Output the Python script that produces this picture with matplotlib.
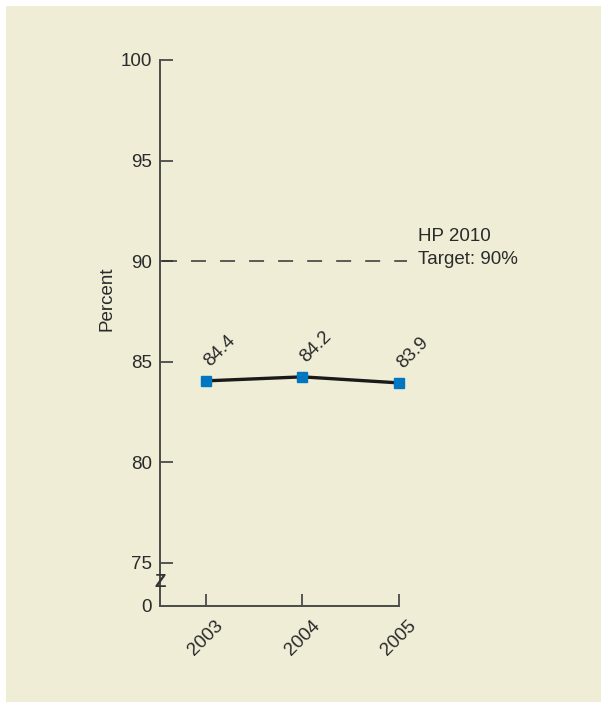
import matplotlib
matplotlib.use("Agg")
import matplotlib.pyplot as plt
from matplotlib.patches import Rectangle

plt.rcParams['font.family'] = ['Liberation Sans', 'DejaVu Sans']

years = [2003, 2004, 2005]
percent_plotted = [84.05, 84.25, 83.95]
percent_labels = ["84.4", "84.2", "83.9"]
target_value = 90
target_label = "HP 2010\nTarget: 90%"
ytick_values = [75, 80, 85, 90, 95, 100]
axis_floor = 72.86  # position of the "0" on the broken axis

W, H = 601, 702
FS = 13.5
fig = plt.figure(figsize=(W / 100, H / 100), dpi=100)
fig.patch.set_facecolor('white')
bg = '#efedd6'
fig.patches.append(Rectangle((6 / W, 0), 1 - 6 / W, 1 - 6 / H, transform=fig.transFigure,
                             facecolor=bg, edgecolor='none', zorder=-10))

left, right = 160 / W, 399 / W
bottom, top = 1 - 606 / H, 1 - 60 / H
ax = fig.add_axes([left, bottom, right - left, top - bottom])
ax.set_facecolor('none')

text_color = '#2a2a2a'
spine_color = '#4a4a4a'

ax.set_xlim(2002.526, 2005.0)
ax.set_ylim(axis_floor, 100)

for s in ['top', 'right']:
    ax.spines[s].set_visible(False)
for s in ['left', 'bottom']:
    ax.spines[s].set_color(spine_color)
    ax.spines[s].set_linewidth(1.4)

# target line
ax.plot([2002.55, 2005.08], [target_value, target_value], linestyle=(0, (9.8, 9.2)),
        color='#333333', linewidth=1.1, clip_on=False, zorder=2)

# data line
ax.plot(years, percent_plotted, color='#1a1a1a', linewidth=2.4, zorder=3,
        marker='s', markersize=6.5, markerfacecolor='#0077c0', markeredgecolor='#0077c0',
        clip_on=False)

for x, y, lab in zip(years, percent_plotted, percent_labels):
    ax.annotate(lab, (x, y), xytext=(10, 21.5), textcoords='offset points',
                rotation=45, ha='center', va='center', fontsize=FS, color=text_color)

# y ticks
yt = [axis_floor] + ytick_values
ax.set_yticks(yt)
ax.set_yticklabels(['0'] + [str(v) for v in ytick_values])
ax.tick_params(axis='y', direction='in', length=9, width=1.3, color=spine_color,
               pad=6, labelsize=FS, labelcolor=text_color)
ax.yaxis.get_major_ticks()[0].tick1line.set_visible(False)

# x ticks
ax.set_xticks(years)
ax.set_xticklabels([str(y) for y in years], rotation=45, ha='center')
ax.tick_params(axis='x', direction='in', length=9, width=1.3, color=spine_color,
               pad=8, labelsize=FS, labelcolor=text_color)

# axis break mark
ax.text(0, 74.05, 'Z', transform=ax.get_yaxis_transform(), ha='center', va='center',
        fontsize=FS, color='#333333', fontweight='bold', zorder=5)

fig.text(107 / W, 1 - 299 / H, 'Percent', rotation=90, ha='center', va='center',
         fontsize=FS, color=text_color)
fig.text(418 / W, 1 - 248 / H, target_label, ha='left', va='center',
         fontsize=FS, color=text_color, linespacing=1.45)

fig.savefig('out.png', dpi=100, facecolor=fig.get_facecolor())
